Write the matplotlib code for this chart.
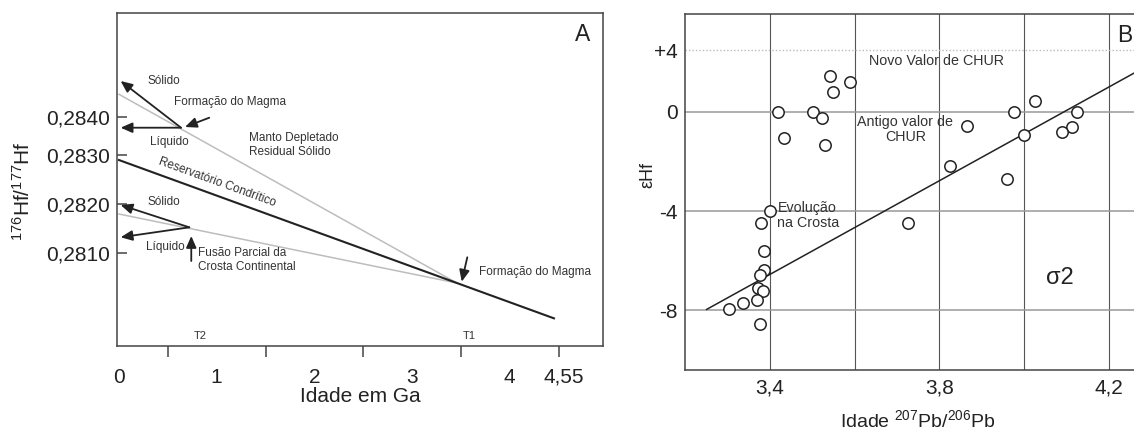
import numpy as np
import matplotlib
matplotlib.use("Agg")
import matplotlib.pyplot as plt

plt.rcParams["font.family"] = "Liberation Sans"
plt.rcParams["mathtext.fontset"] = "custom"
plt.rcParams["mathtext.rm"] = "Liberation Sans"
plt.rcParams["mathtext.it"] = "Liberation Sans:italic"

# --- Painel A: evolução esquemática de 176Hf/177Hf ---
condrito_x = [0.0, 4.452]
condrito_y = [0.282892, 0.279681]
t1_x, t1_y = 3.46, 0.280396          # ponto comum das três retas
manto_y0 = 0.284615                   # manto depletado em t = 0
crosta_y0 = 0.281797                  # crosta continental em t = 0

# setas: (x inicial, y inicial, x final, y final)
setas_ini_x = [0.635, 0.635, 0.924, 0.720, 0.720, 0.740, 3.565]
setas_ini_y = [0.283722, 0.283722, 0.283989, 0.281527, 0.281527, 0.280844, 0.280919]
setas_fim_x = [0.017, 0.017, 0.676, 0.017, 0.017, 0.740, 3.508]
setas_fim_y = [0.284971, 0.283722, 0.283741, 0.281980, 0.281325, 0.281351, 0.280424]

ticks_a_y = [0.2810, 0.2820, 0.2830, 0.2840]
rotulos_a_y = ["0,2810", "0,2820", "0,2830", "0,2840"]
ticks_a_x = [0, 1, 2, 3, 4, 4.55]
rotulos_a_x = ["0", "1", "2", "3", "4", "4,55"]
marcas_a_x = [0.5, 1.0, 1.5, 2.0, 2.5, 3.0, 3.5, 4.0, 4.5]

# --- Painel B: εHf x idade Pb-Pb ---
idade = [3.543, 3.589, 3.549, 3.419, 3.503, 3.522, 3.433, 3.531,
         4.026, 3.975, 4.124, 3.864, 4.113, 4.090, 3.999, 3.825, 3.959,
         3.400, 3.379, 3.387, 3.386, 3.376, 3.373, 3.384, 3.369, 3.336,
         3.303, 3.378, 3.726]
ehf = [2.29, 1.92, 1.26, 0.0, 0.0, -0.25, -1.06, -1.33,
       0.69, 0.0, 0.0, -0.59, -0.60, -0.83, -0.95, -2.17, -2.71,
       -3.99, -4.49, -5.60, -6.39, -6.59, -7.09, -7.21, -7.60, -7.72,
       -7.96, -8.56, -4.46]
reta_x = [3.251, 4.30]
reta_y = [-7.96, 3.13]

grade_b_x = [3.4, 3.6, 3.8, 4.0, 4.2]
grade_b_y = [0, -4, -8]
chur_novo = 4
ticks_b_x = [3.4, 3.8, 4.2]
rotulos_b_x = ["3,4", "3,8", "4,2"]
ticks_b_y = [4, 0, -4, -8]
rotulos_b_y = ["+4", "0", "-4", "-8"]


def comprime_acima(corte, k):
    # escala linear por partes: acima de `corte` o eixo fica comprimido
    def fwd(v):
        v = np.asarray(v, dtype=float)
        return np.where(v > corte, corte + (v - corte) * k, v)

    def inv(p):
        p = np.asarray(p, dtype=float)
        return np.where(p > corte, corte + (p - corte) / k, p)

    return fwd, inv


fig = plt.figure(figsize=(11.34, 4.30), dpi=100)
fig.patch.set_facecolor("white")

texto = "#333333"
moldura = "#444444"

# ================= Painel A =================
ax = fig.add_axes([0.10344, 0.19605, 0.42857, 0.77302])
ax.set_yscale("function", functions=comprime_acima(0.2830, 0.7586))
ax.set_xlim(-0.017, 4.957)
ax.set_ylim(0.279126, 0.286781)

ax.plot([0, t1_x], [manto_y0, t1_y], color="#bdbdbd", lw=1.1, zorder=2)
ax.plot([0, t1_x], [crosta_y0, t1_y], color="#bdbdbd", lw=1.1, zorder=2)
ax.plot(condrito_x, condrito_y, color="#222222", lw=1.5, zorder=3)

for x0, y0, x1, y1 in zip(setas_ini_x, setas_ini_y, setas_fim_x, setas_fim_y):
    ax.annotate("", xy=(x1, y1), xytext=(x0, y0),
                arrowprops=dict(arrowstyle="-|>,head_length=0.5,head_width=0.22",
                                color="#222222", lw=1.3, mutation_scale=14,
                                shrinkA=0, shrinkB=0), zorder=4)

fs = 8.5
ax.text(0.294, 0.284971, "Sólido", fontsize=fs, color=texto, va="center")
ax.text(0.563, 0.284417, "Formação do Magma", fontsize=fs, color=texto, va="center")
ax.text(0.317, 0.283348, "Líquido", fontsize=fs, color=texto, va="center")
ax.text(1.334, 0.283267, "Manto Depletado\nResidual Sólido", fontsize=fs,
        color=texto, va="center", linespacing=1.2)
ax.text(1.004, 0.282436, "Reservatório Condrítico", fontsize=fs, color=texto,
        ha="center", va="center", rotation=-20, rotation_mode="anchor")
ax.text(0.294, 0.282047, "Sólido", fontsize=fs, color=texto, va="center")
ax.text(0.273, 0.281122, "Líquido", fontsize=fs, color=texto, va="center")
ax.text(0.812, 0.280864, "Fusão Parcial da\nCrosta Continental", fontsize=fs,
        color=texto, va="center", linespacing=1.15)
ax.text(3.685, 0.280627, "Formação do Magma", fontsize=fs, color=texto, va="center")
ax.text(0.829, 0.279323, "T2", fontsize=8, color=texto, ha="center", va="center")
ax.text(3.586, 0.279323, "T1", fontsize=8, color=texto, ha="center", va="center")
ax.text(4.747, 0.286201, "A", fontsize=16.5, color="#222222", ha="center", va="center")

ax.set_yticks(ticks_a_y)
ax.set_yticklabels(rotulos_a_y)
ax.yaxis.set_minor_locator(plt.NullLocator())
ax.tick_params(axis="y", direction="in", length=7, width=1.1, color=moldura,
               labelsize=15, labelcolor="#222222", pad=5)

ax.set_xticks(ticks_a_x)
ax.set_xticklabels(rotulos_a_x)
ax.set_xticks(marcas_a_x, minor=True)
ax.tick_params(axis="x", which="major", length=0, labelsize=15,
               labelcolor="#222222", pad=16)
ax.tick_params(axis="x", which="minor", direction="out", length=8,
               width=1.1, color=moldura)

ax.set_xlabel("Idade em Ga", fontsize=15, color="#222222")
ax.xaxis.set_label_coords(0.5, -0.153)
ax.xaxis.label.set_va("center")
ax.set_ylabel(r"$^{176}$Hf/$^{177}$Hf", fontsize=15, color="#222222")
ax.yaxis.set_label_coords(-0.194, 0.465)
ax.yaxis.label.set_va("center")

for s in ax.spines.values():
    s.set_color(moldura)
    s.set_linewidth(1.1)

# ================= Painel B =================
bx = fig.add_axes([0.60406, 0.13953, 0.41129, 0.82791])
bx.set_yscale("function", functions=comprime_acima(0.0, 0.621))
bx.set_xlim(3.2, 4.3)
bx.set_ylim(-10.4, 6.34)

for gx in grade_b_x:
    bx.axvline(gx, color="#555555", lw=0.8, zorder=1)
for gy in grade_b_y:
    bx.axhline(gy, color="#999999", lw=1.1, zorder=1)
bx.axhline(chur_novo, color="#bbbbbb", lw=1.0, ls=(0, (1, 1.5)), zorder=1)

bx.plot(reta_x, reta_y, color="#222222", lw=1.1, zorder=2)
bx.plot(idade, ehf, ls="none", marker="o", ms=8.2, mfc="white",
        mec="#222222", mew=1.1, zorder=3)

fb = 10.3
bx.text(3.792, 3.31, "Novo Valor de CHUR", fontsize=fb, color=texto,
        ha="center", va="center")
bx.text(3.720, -0.70, "Antigo valor de\nCHUR", fontsize=fb, color=texto,
        ha="center", va="center", linespacing=1.1)
bx.text(3.418, -4.19, "Evolução\nna Crosta", fontsize=fb, color=texto,
        ha="left", va="center", linespacing=1.1)
bx.text(4.084, -6.71, "σ2", fontsize=17, color="#222222", ha="center", va="center")
bx.text(4.220, 4.97, "B", fontsize=16.5, color="#222222", ha="left", va="center")

bx.set_xticks(ticks_b_x)
bx.set_xticklabels(rotulos_b_x)
bx.set_yticks(ticks_b_y)
bx.set_yticklabels(rotulos_b_y)
bx.yaxis.set_minor_locator(plt.NullLocator())
bx.tick_params(length=0, labelsize=15, labelcolor="#222222")
bx.tick_params(axis="x", pad=6)
bx.tick_params(axis="y", pad=5)

bx.set_xlabel(r"Idade $^{207}$Pb/$^{206}$Pb", fontsize=14, color="#222222")
bx.xaxis.set_label_coords(0.5, -0.1404)
bx.xaxis.label.set_va("center")
bx.set_ylabel("εHf", fontsize=13, color="#222222")
bx.yaxis.set_label_coords(-0.079, 0.548)
bx.yaxis.label.set_va("center")

for s in bx.spines.values():
    s.set_color(moldura)
    s.set_linewidth(1.1)

fig.savefig("out.png", dpi=100)
